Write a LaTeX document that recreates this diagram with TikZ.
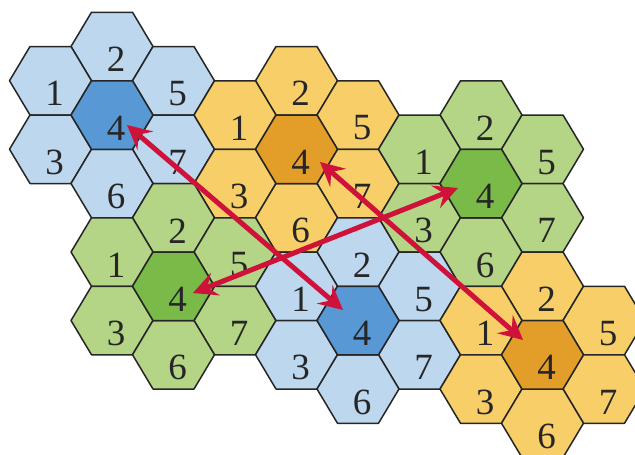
\documentclass[tikz,border=0pt]{standalone}
\usepackage{fontspec}
\setmainfont{Liberation Serif}
\usetikzlibrary{arrows.meta}
\definecolor{lblue}{RGB}{189,215,238}
\definecolor{dblue}{RGB}{88,152,212}
\definecolor{lyel}{RGB}{247,206,104}
\definecolor{dyel}{RGB}{226,158,40}
\definecolor{lgrn}{RGB}{180,212,134}
\definecolor{dgrn}{RGB}{122,186,72}
\definecolor{arrred}{RGB}{206,18,58}
\tikzset{
  hexline/.style={draw=black!85, line width=1.5pt, line join=round},
  celllabel/.style={font=\fontsize{37}{37}\selectfont, text=black!85, inner sep=0pt},
  reuse/.style={draw=arrred, line width=5pt,
    {Stealth[length=24pt,width=24pt,inset=9pt]}-{Stealth[length=24pt,width=24pt,inset=9pt]}}
}
% \hexcell{name}{c}{h}{fill}{label}
\newcommand{\hexcell}[5]{%
  \pgfmathsetmacro{\hcx}{112+61.5*(#2)}%
  \pgfmathsetmacro{\hcy}{115+34.25*(#3)}%
  \draw[hexline, fill=#4] (\hcx-41,\hcy) -- (\hcx-20.5,\hcy-34.25) -- (\hcx+20.5,\hcy-34.25)
     -- (\hcx+41,\hcy) -- (\hcx+20.5,\hcy+34.25) -- (\hcx-20.5,\hcy+34.25) -- cycle;
  \node[celllabel] (#1) at (\hcx+4,\hcy+13) {#5};%
}
% \cluster{prefix}{c0}{h0}{light}{dark}
\newcommand{\cluster}[5]{%
  \hexcell{#1-2}{#2}{#3-2}{#4}{2}%
  \hexcell{#1-1}{#2-1}{#3-1}{#4}{1}%
  \hexcell{#1-5}{#2+1}{#3-1}{#4}{5}%
  \hexcell{#1-3}{#2-1}{#3+1}{#4}{3}%
  \hexcell{#1-7}{#2+1}{#3+1}{#4}{7}%
  \hexcell{#1-6}{#2}{#3+2}{#4}{6}%
  \hexcell{#1-4}{#2}{#3}{#5}{4}%
}
\begin{document}
\begin{tikzpicture}[x=1pt,y=-1pt]
\useasboundingbox (0,0) rectangle (635,455);
\begin{scope}
\clip (0,0) rectangle (635,455);
\cluster{ba}{0}{0}{lblue}{dblue}
\cluster{oa}{3}{1}{lyel}{dyel}
\cluster{ga}{6}{2}{lgrn}{dgrn}
\cluster{gb}{1}{5}{lgrn}{dgrn}
\cluster{bb}{4}{6}{lblue}{dblue}
\cluster{ob}{7}{7}{lyel}{dyel}
\end{scope}
\coordinate (ta1) at (127,125);
\coordinate (ta2) at (343,310);
\coordinate (tb1) at (320,162);
\coordinate (tb2) at (523,340);
\coordinate (tc1) at (193,293);
\coordinate (tc2) at (458,188);
\draw[reuse] (ta1) -- (ta2);
\draw[reuse] (tb1) -- (tb2);
\draw[reuse] (tc1) -- (tc2);
\end{tikzpicture}
\end{document}
